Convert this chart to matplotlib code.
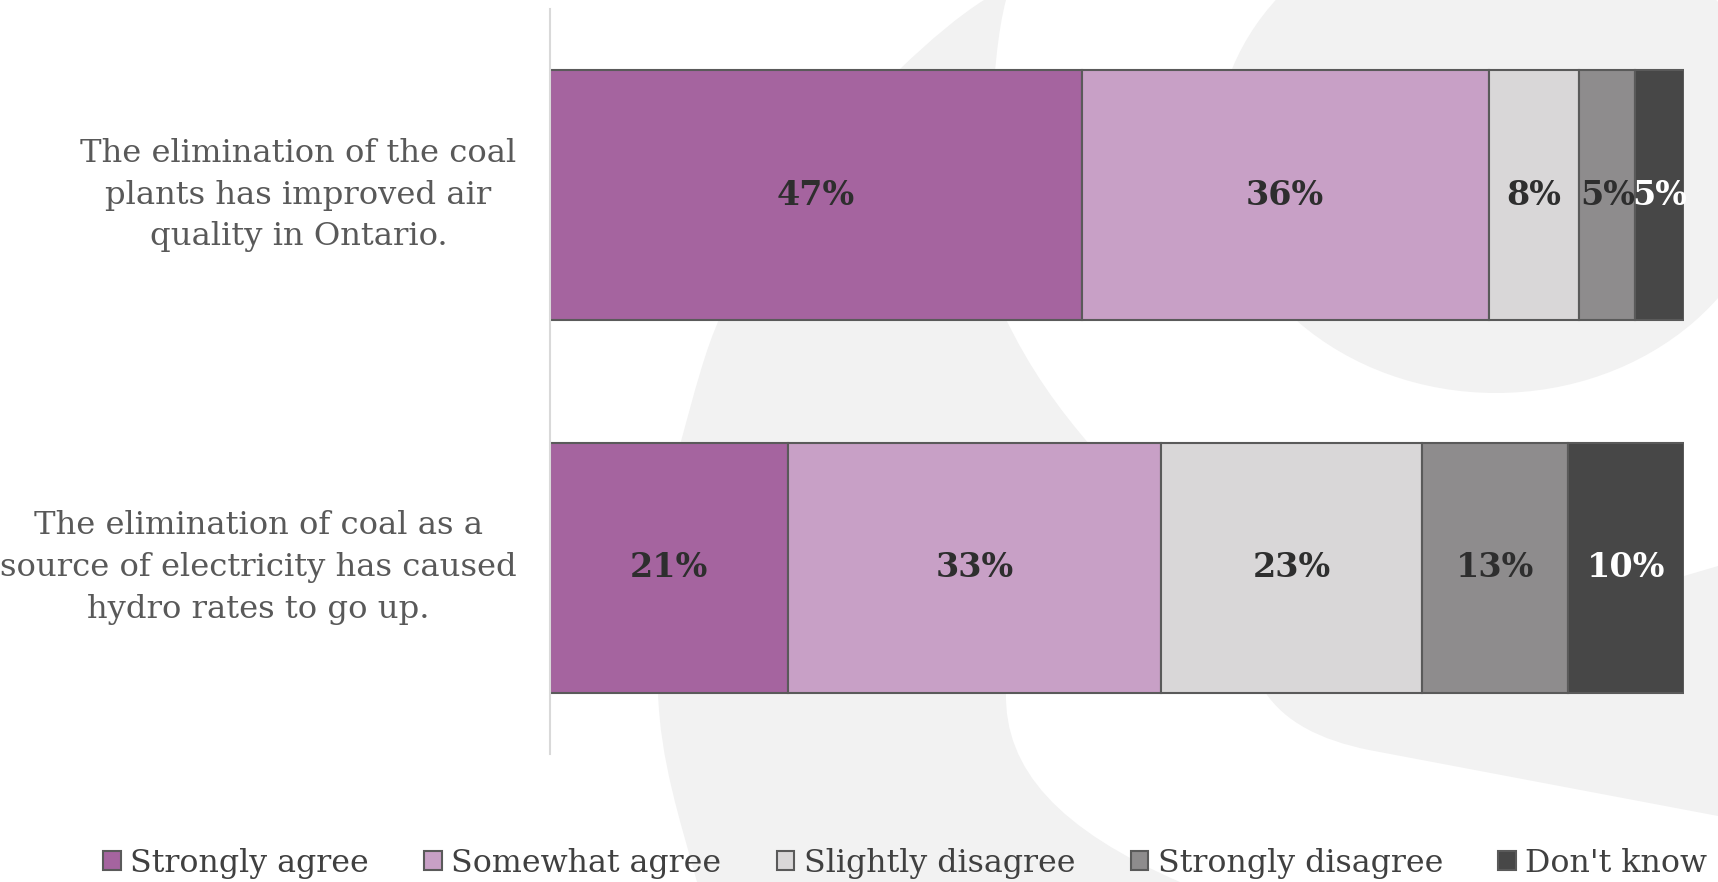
import matplotlib

matplotlib.use('Agg')
import matplotlib.pyplot as plt
from matplotlib.patches import Ellipse, PathPatch
from matplotlib.path import Path
from matplotlib.transforms import Affine2D

statements = [
    'The elimination of the coal\nplants has improved air\nquality in Ontario.',
    'The elimination of coal as a\nsource of electricity has caused\nhydro rates to go up.',
]
responses = ['Strongly agree', 'Somewhat agree', 'Slightly disagree',
             'Strongly disagree', "Don't know"]
# percentages per response, one list per statement
air_quality = [46.9, 35.9, 8.0, 4.9, 4.3]
hydro_rates = [21.0, 32.9, 23.0, 12.9, 10.2]
air_quality_labels = ['47%', '36%', '8%', '5%', '5%']
hydro_rates_labels = ['21%', '33%', '23%', '13%', '10%']

colors = ['#A5649F', '#C8A0C6', '#D9D7D8', '#8E8C8D', '#474747']
label_colors = ['#2E2E2E', '#2E2E2E', '#2E2E2E', '#2E2E2E', '#FFFFFF']

plt.rcParams['font.family'] = ['DejaVu Serif']

W, H = 1718, 882
fig = plt.figure(figsize=(W / 100, H / 100), dpi=100)

# faint watermark behind the chart (pixel coords, origin top-left)
px = Affine2D().scale(1 / W, -1 / H).translate(0, 1) + fig.transFigure
wm = '#F2F2F2'
M, L, C, Z = Path.MOVETO, Path.LINETO, Path.CURVE4, Path.CLOSEPOLY
leaf = Path(
    [(984, 0), (1006, 0),
     (990, 60), (985, 200), (1004, 315),
     (1030, 370), (1060, 410), (1090, 445),
     (1006, 692),
     (1004, 770), (1060, 830), (1180, 882),
     (697, 882),
     (680, 820), (660, 760), (658, 692),
     (680, 445),
     (695, 390), (705, 350), (721, 315),
     (780, 200), (850, 120), (900, 69),
     (930, 40), (960, 15), (984, 0),
     (984, 0)],
    [M, L, C, C, C, C, C, C, L, C, C, C, L, C, C, C, L, C, C, C,
     C, C, C, C, C, C, Z])
fig.add_artist(PathPatch(leaf, transform=px, facecolor=wm,
                         edgecolor='none', zorder=-2))
fig.add_artist(Ellipse((1496, 150), 560, 486, transform=px, facecolor=wm,
                       edgecolor='none', zorder=-2))
tail = Path(
    [(1250, 600), (1265, 692),
     (1285, 722), (1320, 740), (1369, 750),
     (1718, 816), (1718, 566), (1684, 576),
     (1250, 600)],
    [M, L, C, C, C, L, L, L, Z])
fig.add_artist(PathPatch(tail, transform=px, facecolor=wm,
                         edgecolor='none', zorder=-2))

ax = fig.add_axes([0.3201, 0.145, 0.660, 0.845])

rows = [air_quality, hydro_rates]
row_labels = [air_quality_labels, hydro_rates_labels]
for i, resp in enumerate(responses):
    vals = [r[i] for r in rows]
    lefts = [sum(r[:i]) for r in rows]
    bars = ax.barh(range(len(rows)), vals, left=lefts, height=0.67,
                   color=colors[i], edgecolor='#5A5A5A', linewidth=1.5,
                   label=resp)
    for j, bar in enumerate(bars):
        ax.text(bar.get_x() + bar.get_width() / 2,
                bar.get_y() + bar.get_height() / 2,
                row_labels[j][i], ha='center', va='center',
                fontsize=24, fontweight='bold', color=label_colors[i])

for j, text in enumerate(statements):
    ax.annotate(text, xy=(0, j), xycoords=('axes fraction', 'data'),
                xytext=(-24, 0), textcoords='offset points',
                ha='right', va='center', multialignment='center',
                fontsize=23.2, color='#595959', linespacing=1.45)

ax.set_xlim(0, 100)
ax.set_ylim(1.5, -0.5)
ax.set_xticks([])
ax.set_yticks([])
for side in ['top', 'right', 'bottom']:
    ax.spines[side].set_visible(False)
ax.spines['left'].set_color('#D9D9D9')
ax.spines['left'].set_linewidth(1.5)
ax.patch.set_alpha(0)

fig.legend(loc='center', bbox_to_anchor=(0.527, 0.021), ncol=5,
           frameon=False, fontsize=22.8, handlelength=0.55, handleheight=0.55,
           handletextpad=0.3, columnspacing=1.75, labelcolor='#404040')

fig.savefig('out.png')
